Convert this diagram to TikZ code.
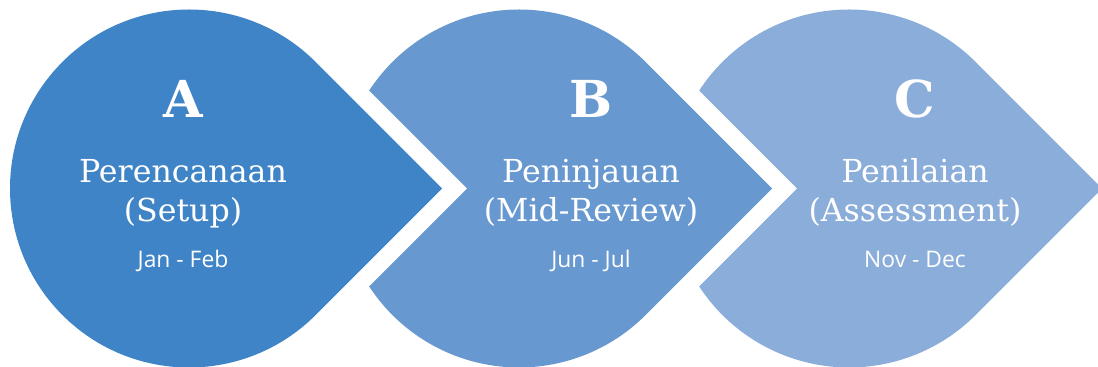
\documentclass[tikz,border=0pt]{standalone}
\usepackage{fontspec}
\usetikzlibrary{calc}
\newfontfamily\slabfont{DejaVu Serif}
\newfontfamily\datefont{Open Sans}
\definecolor{phaseA}{HTML}{3F84C6}
\definecolor{phaseB}{HTML}{6898D0}
\definecolor{phaseC}{HTML}{8BADDA}
\tikzset{
  letter/.style={white, anchor=base, font=\slabfont\bfseries\fontsize{29}{30}\selectfont},
  title/.style={white, anchor=base, font=\slabfont\fontsize{18}{20}\selectfont},
  period/.style={white, anchor=base, font=\datefont\fontsize{13}{15}\selectfont},
}

\begin{document}
\begin{tikzpicture}
    \clip (0,0) rectangle (21.96,7.34);
    \coordinate (cA) at (3.78,3.57);
    \coordinate (cB) at (10.38,3.57);
    \coordinate (cC) at (16.98,3.57);
    % first drop, no notch
    \fill[phaseA] ($(cA)+(5.063,0)$) -- ($(cA)+(45:3.58)$)
        arc[start angle=45, end angle=315, radius=3.58] -- cycle;
    % drops with a notch for the tip before
    \fill[phaseB] ($(cB)+(5.063,0)$) -- ($(cB)+(45:3.58)$)
        arc[start angle=45, end angle=146.8, radius=3.58] -- ($(cB)+(-1.037,0)$)
        -- ($(cB)+(213.2:3.58)$) arc[start angle=213.2, end angle=315, radius=3.58] -- cycle;
    \fill[phaseC] ($(cC)+(5.063,0)$) -- ($(cC)+(45:3.58)$)
        arc[start angle=45, end angle=146.8, radius=3.58] -- ($(cC)+(-1.037,0)$)
        -- ($(cC)+(213.2:3.58)$) arc[start angle=213.2, end angle=315, radius=3.58] -- cycle;

    \node[letter] (lettA) at (3.66,4.98) {A};
    \node[title] (titleA) at (3.66,3.68) {Perencanaan};
    \node[title] (subA) at (3.66,2.90) {(Setup)};
    \node[period] (dateA) at (3.66,1.98) {Jan - Feb};

    \node[letter] (lettB) at (11.82,4.98) {B};
    \node[title] (titleB) at (11.82,3.68) {Peninjauan};
    \node[title] (subB) at (11.82,2.90) {(Mid-Review)};
    \node[period] (dateB) at (11.82,1.98) {Jun - Jul};

    \node[letter] (lettC) at (18.30,4.98) {C};
    \node[title] (titleC) at (18.30,3.68) {Penilaian};
    \node[title] (subC) at (18.30,2.90) {(Assessment)};
    \node[period] (dateC) at (18.30,1.98) {Nov - Dec};
\end{tikzpicture}
\end{document}
